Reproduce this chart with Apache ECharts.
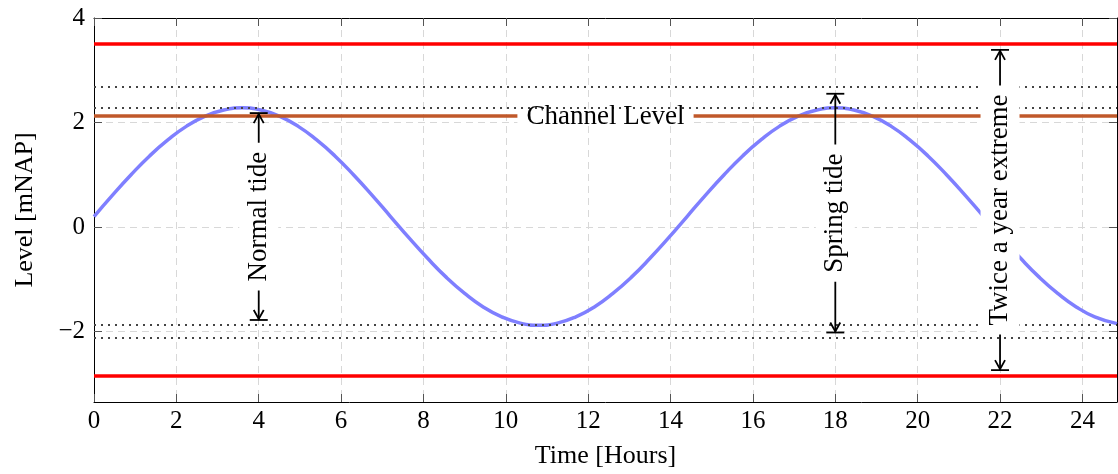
<!DOCTYPE html>
<html>
<head>
<meta charset="utf-8">
<script src="https://cdn.jsdelivr.net/npm/echarts@6/dist/echarts.min.js"></script>
<style>
	html, body { margin: 0; padding: 0; background: #fff; }
	#chart { width: 1118px; height: 474px; }
</style>
</head>
<body>
<div id="chart"></div>
<script>
// tide curve
var hours = [0, 0.45, 0.9, 1.35, 1.8, 2.25, 2.7, 3.15, 3.6, 4.05, 4.5, 4.95, 5.4, 5.85, 6.3, 6.75,
	7.2, 7.65, 8.1, 8.55, 9.0, 9.45, 9.9, 10.35, 10.8, 11.25, 11.7, 12.15, 12.6, 13.05, 13.5, 13.95,
	14.4, 14.85, 15.3, 15.75, 16.2, 16.65, 17.1, 17.55, 18.0, 18.45, 18.9, 19.35, 19.8, 20.25, 20.7, 21.15,
	21.6, 22.05, 22.5, 22.95, 23.4, 23.85, 24.3, 24.84];
var level = [0.2, 0.61, 1.0, 1.36, 1.67, 1.93, 2.12, 2.24, 2.28, 2.24, 2.12, 1.93, 1.67, 1.36, 1.0, 0.61,
	0.2, -0.21, -0.6, -0.96, -1.27, -1.53, -1.72, -1.84, -1.88, -1.84, -1.72, -1.53, -1.27, -0.96, -0.6, -0.21,
	0.2, 0.61, 1.0, 1.36, 1.67, 1.93, 2.12, 2.24, 2.28, 2.24, 2.12, 1.93, 1.67, 1.36, 1.0, 0.61,
	0.2, -0.21, -0.6, -0.96, -1.27, -1.53, -1.72, -1.85];

var xTicks = [0, 2, 4, 6, 8, 10, 12, 14, 16, 18, 20, 22, 24];
var yTicks = [-2, 0, 2, 4];

var redLevels = [3.5, -2.85];
var dottedLevels = [2.68, 2.28, -1.87, -2.12];
var channelLevel = 2.12;
var channelLabelX = 12.42;

// dimension arrows
var spanX = [4, 18, 22];
var spanTop = [2.18, 2.55, 3.39];
var spanBottom = [-1.78, -2.02, -2.74];
var spanLabels = ['Normal tide', 'Spring tide', 'Twice a year extreme'];

var font = '"Liberation Serif", "DejaVu Serif", serif';

var curve = hours.map(function(h, i){ return [h, level[i]]; });
var spans = spanX.map(function(x, i){ return [x, spanTop[i], spanBottom[i]]; });

var hLines = [];
redLevels.forEach(function(v){
	hLines.push({yAxis: v, lineStyle: {color: '#ff0000', width: 3.5, type: 'solid'}});
});
dottedLevels.forEach(function(v){
	hLines.push({yAxis: v, lineStyle: {color: '#444', width: 2, type: [2, 5]}});
});
hLines.push({yAxis: channelLevel, lineStyle: {color: '#c0582a', width: 3.5, type: 'solid'}});

function minus(v){ return String(v).replace('-', '\u2212'); }

var tickStyle = {inside: true, length: 8, lineStyle: {color: '#555'}};

var chart = echarts.init(document.getElementById('chart'));
var option = {
	animation: false,
	grid: {left: 94, right: 1, top: 18, bottom: 70},
	xAxis: [{
		type: 'value', min: 0, max: 24.84,
		name: 'Time [Hours]', nameLocation: 'middle', nameGap: 41,
		nameTextStyle: {fontFamily: font, fontSize: 26, color: '#000'},
		axisLine: {onZero: false, lineStyle: {color: '#000'}},
		axisTick: Object.assign({customValues: xTicks}, tickStyle),
		axisLabel: {customValues: xTicks, fontFamily: font, fontSize: 25, color: '#000', margin: 7},
		splitLine: {show: true, lineStyle: {color: '#d8d8d8', type: [7, 5]}}
	}, {
		type: 'value', min: 0, max: 24.84, position: 'top',
		axisLine: {show: true, onZero: false, lineStyle: {color: '#000'}},
		axisTick: Object.assign({customValues: xTicks}, tickStyle),
		axisLabel: {show: false},
		splitLine: {show: false}
	}],
	yAxis: [{
		type: 'value', min: -3.35, max: 4,
		name: 'Level [mNAP]', nameLocation: 'middle', nameGap: 56, nameRotate: 90,
		nameTextStyle: {fontFamily: font, fontSize: 26, color: '#000'},
		axisLine: {show: true, onZero: false, lineStyle: {color: '#000'}},
		axisTick: Object.assign({show: true, customValues: yTicks}, tickStyle),
		axisLabel: {customValues: yTicks, fontFamily: font, fontSize: 25, color: '#000', margin: 9, formatter: minus},
		splitLine: {show: true, lineStyle: {color: '#d8d8d8', type: [7, 5]}}
	}, {
		type: 'value', min: -3.35, max: 4, position: 'right',
		axisLine: {show: true, onZero: false, lineStyle: {color: '#000'}},
		axisTick: Object.assign({show: true, customValues: yTicks}, tickStyle),
		axisLabel: {show: false},
		splitLine: {show: false}
	}],
	series: [
		{
			type: 'line', data: curve, smooth: true, showSymbol: false, z: 2,
			lineStyle: {color: '#7f7fff', width: 3.5}
		},
		{
			type: 'line', data: [], z: 3,
			markLine: {silent: true, symbol: 'none', label: {show: false}, data: hLines}
		},
		{
			// channel level label
			type: 'custom', z: 5, data: [[channelLabelX, channelLevel]],
			renderItem: function(params, api){
				var p = api.coord([api.value(0), api.value(1)]);
				return {type: 'text', x: p[0], y: p[1] + 1, style: {
					text: 'Channel Level', fontFamily: font, fontSize: 27, fill: '#000',
					align: 'center', verticalAlign: 'middle', backgroundColor: '#fff',
					padding: [0, 9], lineHeight: 14
				}};
			}
		},
		{
			type: 'custom', z: 5, data: spans,
			renderItem: function(params, api){
				var p1 = api.coord([api.value(0), api.value(1)]);
				var p2 = api.coord([api.value(0), api.value(2)]);
				var cx = p1[0], t = p1[1], b = p2[1];
				var st = {stroke: '#000', lineWidth: 1.8, fill: null};
				return {type: 'group', children: [
					{type: 'line', shape: {x1: cx, y1: t, x2: cx, y2: b}, style: st},
					{type: 'line', shape: {x1: cx - 9, y1: t, x2: cx + 9, y2: t}, style: st},
					{type: 'line', shape: {x1: cx - 9, y1: b, x2: cx + 9, y2: b}, style: st},
					{type: 'polyline', shape: {points: [[cx - 5, t + 10], [cx, t + 1], [cx + 5, t + 10]]}, style: st},
					{type: 'polyline', shape: {points: [[cx - 5, b - 10], [cx, b - 1], [cx + 5, b - 10]]}, style: st},
					{type: 'text', x: cx, y: (t + b) / 2, rotation: Math.PI / 2, style: {
						text: spanLabels[params.dataIndex], fontFamily: font, fontSize: 27, fill: '#000',
						align: 'center', verticalAlign: 'middle', backgroundColor: '#fff',
						padding: [7, 9], lineHeight: 25
					}}
				]};
			}
		}
	]
};
chart.setOption(option);
</script>
</body>
</html>
